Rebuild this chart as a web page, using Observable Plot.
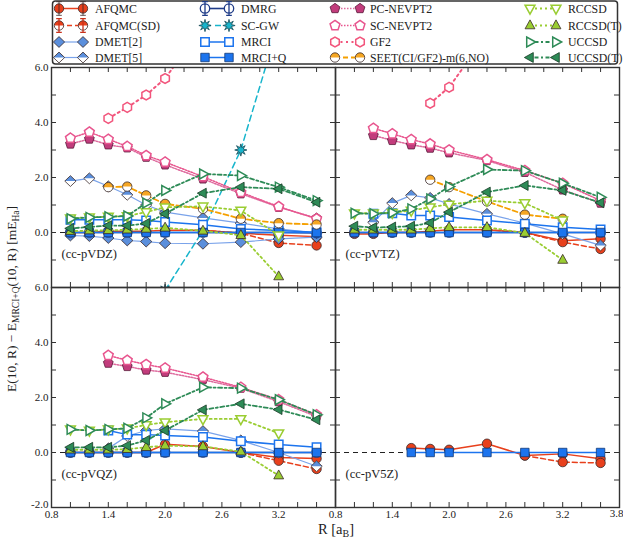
<!DOCTYPE html>
<html><head><meta charset="utf-8">
<script src="https://cdn.jsdelivr.net/npm/d3@7"></script>
<script src="https://cdn.jsdelivr.net/npm/@observablehq/plot@0.6"></script>
<style>
body{margin:0;background:#fff;}
#wrap{position:relative;width:623px;height:540px;font-family:"Liberation Serif",serif;}
#chart{position:absolute;left:0;top:0;}
#legend{position:absolute;left:0;top:0;}
</style></head><body><div id="wrap"><div id="chart"></div><div id="legend"></div></div>
<script>
// ---------- data ----------
const R = [1.0, 1.2, 1.4, 1.6, 1.8, 2.0, 2.4, 2.8, 3.2, 3.6];
const panelNames = ["(cc-pVDZ)", "(cc-pVTZ)", "(cc-pVQZ)", "(cc-pV5Z)"];
const xTickLabels = [0.8, 1.4, 2.0, 2.6, 3.2];
const yTickLabels = [0, 2, 4, 6];
const xMinor = [1.0,1.2,1.4,1.6,1.8,2.0,2.2,2.4,2.6,2.8,3.0,3.2,3.4,3.6];
const yMinor = [-1, 0, 1, 2, 3, 4, 5];
const _ = null;

const AFQMC    = {dz:[0.0,0.0,0.05,0.05,0.05,0.08,0.08,-0.03,-0.1,-0.15], tz:[-0.05,-0.05,0.0,0.0,0.05,0.1,0.1,0.0,-0.3,-0.23], qz:[0,0,0,0,0,0.3,0.22,0,-0.18,-0.22], v5z:[_,_,_,0.16,0.13,0.1,0.32,-0.11,-0.05,-0.23]};
const AFQMC_SD = {dz:[_,_,_,_,_,_,0.08,-0.03,-0.38,-0.47], tz:[_,_,_,_,_,_,0.1,0.0,-0.35,-0.6], qz:[_,_,_,_,_,_,_,0,-0.3,-0.6], v5z:[_,_,_,_,_,_,_,-0.11,-0.35,-0.38]};
const DMET2    = {dz:[-0.11,-0.13,-0.2,-0.29,-0.33,-0.39,-0.41,-0.35,-0.23,-0.17]};
const DMET5    = {dz:[1.87,1.97,1.68,1.37,1.0,0.74,0.53,0.34,0.13,-0.02], tz:[_,0.37,1.07,1.35,1.26,1.04,0.68,0.34,-0.05,-0.47], qz:[_,_,0.15,0.6,0.8,0.86,0.78,0.44,0.0,-0.5]};
const DMRG     = {dz:[0,0,0,0,0,0,0,0,0,-0.02], tz:[0,0,0,0,0,0,0,0,0,0], qz:[0,0,0,0,0,0,0,0,0,0]};
const SCGW     = {dz:[_,_,_,_,_,-2.1,0.07,3.0,7.6,_]};
const MRCI     = {dz:[0.46,0.46,0.46,0.46,0.44,0.38,0.28,0.13,0.07,0.01], tz:[_,0.68,0.7,0.62,0.62,0.56,0.44,0.32,0.19,0.11], qz:[_,_,0.8,0.65,0.65,0.62,0.56,0.41,0.29,0.19]};
const MRCIQ    = {dz:[0,0,0,0,0,0,0,0,0,0], tz:[0,0,0,0,0,0,0,0,0,0], qz:[0,0,0,0,0,0,0,0,0,0], v5z:[_,_,_,0,0,0,0,0,0,0]};
const PCNEVPT2 = {dz:[3.22,3.4,3.19,3.08,2.74,2.46,1.95,1.41,0.92,0.52], tz:[_,3.53,3.35,3.19,3.07,2.9,2.62,2.19,1.55,1.07], qz:[_,_,3.25,3.13,3.0,2.92,2.65,2.34,1.85,1.31]};
const SCNEVPT2 = {dz:[3.43,3.65,3.39,3.13,2.8,2.56,2.03,1.46,0.94,0.5], tz:[_,3.79,3.59,3.38,3.22,3.0,2.65,2.25,1.79,1.16], qz:[_,_,3.53,3.35,3.2,3.07,2.74,2.37,1.92,1.37]};
const GF2      = {dz:[_,_,4.15,4.55,5.0,5.6,7.5,_,_,_], tz:[_,_,_,_,4.7,5.28,7.2,_,_,_]};
const SEET     = {dz:[_,_,1.65,1.67,1.35,1.04,0.86,0.5,0.34,0.29], tz:[_,_,_,_,1.92,1.65,1.13,0.65,0.5,_]};
const RCCSD    = {dz:[0.52,0.55,0.58,0.6,0.74,0.92,0.95,0.8,-0.1,_], tz:[0.7,0.7,0.72,0.8,0.92,1.02,1.16,1.07,0.44,_], qz:[0.84,0.8,0.84,0.88,1.0,1.1,1.22,1.22,0.7,_]};
const RCCSDT   = {dz:[0.05,0.07,0.08,0.1,0.13,0.17,0.06,-0.1,-1.6,_], tz:[0.1,0.1,0.1,0.1,0.15,0.19,0.19,-0.02,-1.0,_], qz:[0.1,0.1,0.1,0.12,0.19,0.25,0.22,0.03,-0.84,_]};
const UCCSD    = {dz:[0.5,0.55,0.57,0.6,1.07,1.53,2.13,2.07,1.65,1.16], tz:[0.7,0.68,0.72,0.86,1.22,1.67,2.29,2.25,1.79,1.28], qz:[0.84,0.8,0.84,0.88,1.26,1.77,2.37,2.34,1.92,1.37]};
const UCCSDT   = {dz:[0.15,0.2,0.25,0.25,0.33,0.68,1.43,1.65,1.59,1.1], tz:[0.23,0.18,0.2,0.23,0.35,0.74,1.47,1.71,1.53,1.08], qz:[0.19,0.19,0.19,0.25,0.44,0.8,1.55,1.77,1.56,1.19]};

// ---------- symbols ----------
const rad = s => Math.sqrt(s / Math.PI);
function poly(pts){ return {draw(ctx, size){ const r = rad(size); ctx.moveTo(pts[0][0]*r, pts[0][1]*r); for (let i=1;i<pts.length;i++) ctx.lineTo(pts[i][0]*r, pts[i][1]*r); ctx.closePath(); }}; }
const reg = (n, k, rot) => d3.range(n).map(i => { const a = rot + i*2*Math.PI/n; return [k*Math.cos(a), k*Math.sin(a)]; });
const barPath = (ctx, r) => { const h=r*1.45, c=r*0.6; ctx.moveTo(0,-h); ctx.lineTo(0,h); ctx.moveTo(-c,-h); ctx.lineTo(c,-h); ctx.moveTo(-c,h); ctx.lineTo(c,h); };
const S = {
  circle: {draw(ctx, size){ const r = rad(size); ctx.moveTo(r,0); ctx.arc(0,0,r,0,2*Math.PI); }},
  circleTop: {draw(ctx, size){ const r = rad(size); ctx.moveTo(r,0); ctx.arc(0,0,r,0,Math.PI,true); ctx.closePath(); }},
  circleBar: {draw(ctx, size){ const r = rad(size); ctx.moveTo(r,0); ctx.arc(0,0,r,0,2*Math.PI); barPath(ctx, r); }},
  bar: {draw(ctx, size){ barPath(ctx, rad(size)); }},
  square: poly([[-0.9,-0.9],[0.9,-0.9],[0.9,0.9],[-0.9,0.9]]),
  diamond: poly([[0,-1.15],[1.2,0],[0,1.15],[-1.2,0]]),
  diamondTop: poly([[-1.2,0],[0,-1.15],[1.2,0]]),
  triUp: poly([[0,-1.2],[1.05,0.7],[-1.05,0.7]]),
  triDown: poly([[0,1.2],[1.05,-0.7],[-1.05,-0.7]]),
  triRight: poly([[1.2,0],[-0.7,-1.05],[-0.7,1.05]]),
  triLeft: poly([[-1.2,0],[0.7,-1.05],[0.7,1.05]]),
  pentagon: poly(reg(5, 1.1, -Math.PI/2)),
  hexagon: poly(reg(6, 1.05, -Math.PI/2)),
  star8: poly(d3.range(16).map(i => { const a = -Math.PI/2 + i*Math.PI/8; const k = i % 2 ? 0.55 : 1.3; return [k*Math.cos(a), k*Math.sin(a)]; }))
};

// ---------- styles ----------
const EDGE = "#3a2a2a";
const full = (sym, fill, stroke = EDGE, sw = 0.8) => [{sym, fill, stroke, sw}];
const open = (sym, color, sw = 1.5) => [{sym, fill: "white", stroke: color, sw}];
const half = (symFull, symHalf, color) => [{sym: symFull, fill: "white", stroke: "none", sw: 0}, {sym: symHalf, fill: color, stroke: "none", sw: 0}, {sym: symFull, fill: "none", stroke: EDGE, sw: 0.8}];

const series = [
  {name: "AFQMC", data: AFQMC, color: "#e8401c", lw: 1.5, dash: null, mk: full(S.circle, "#e8401c"), lmk: full(S.circleBar, "#e8401c")},
  {name: "AFQMC(SD)", data: AFQMC_SD, color: "#e8401c", lw: 1.5, dash: "5,3", mk: full(S.circle, "#e8401c"),
   lmk: [...half(S.circle, S.circleTop, "#e8401c"), {sym: S.bar, fill: "none", stroke: "#c8301a", sw: 1.3}]},
  {name: "DMET[2]", data: DMET2, color: "#7aa3ea", lw: 1.2, dash: null, mk: full(S.diamond, "#5b8fdc")},
  {name: "DMET[5]", data: DMET5, color: "#7aa3ea", lw: 1.2, dash: null, mk: half(S.diamond, S.diamondTop, "#5b8fdc")},
  {name: "DMRG", data: DMRG, color: "#1f3c88", lw: 1.6, dash: null, mk: open(S.circle, "#1f3c88", 1.3), lmk: open(S.circleBar, "#1f3c88", 1.3)},
  {name: "SC-GW", data: SCGW, color: "#17b5cc", lw: 1.5, dash: "6,4", mk: full(S.star8, "#17b5cc", "#1a4a55")},
  {name: "MRCI", data: MRCI, color: "#1c74ee", lw: 1.5, dash: null, mk: open(S.square, "#1c74ee")},
  {name: "MRCI+Q", data: MRCIQ, color: "#1c74ee", lw: 1.5, dash: null, mk: full(S.square, "#1c74ee", "#123a77")},
  {name: "PC-NEVPT2", data: PCNEVPT2, color: "#de6b9e", lw: 1.5, dash: "1.5,1.5", mk: full(S.pentagon, "#c23c7c", "#5a1a3a")},
  {name: "SC-NEVPT2", data: SCNEVPT2, color: "#e8558e", lw: 1.5, dash: "1.5,1.5", mk: open(S.pentagon, "#e8558e")},
  {name: "GF2", data: GF2, color: "#f2557c", lw: 2, dash: "2,3.5", mk: open(S.hexagon, "#f2557c")},
  {name: "SEET(CI/GF2)-m(6,NO)", data: SEET, color: "#f5a000", lw: 1.8, dash: "5,3", mk: half(S.circle, S.circleTop, "#f5a623")},
  {name: "RCCSD", data: RCCSD, color: "#9acd32", lw: 1.8, dash: "2,3", mk: open(S.triDown, "#9acd32")},
  {name: "RCCSD(T)", data: RCCSDT, color: "#9acd32", lw: 1.8, dash: "2,3", mk: full(S.triUp, "#9acd32")},
  {name: "UCCSD", data: UCCSD, color: "#2e8b57", lw: 1.8, dash: "2,2.5,4,2.5", mk: open(S.triRight, "#2e8b57")},
  {name: "UCCSD(T)", data: UCCSDT, color: "#2e8b57", lw: 1.8, dash: "2,2.5,4,2.5", mk: full(S.triLeft, "#2e8b57", "#163a25")}
];

const PANELS = [{key: "dz", fx: "L", fy: "T"}, {key: "tz", fx: "R", fy: "T"}, {key: "qz", fx: "L", fy: "B"}, {key: "v5z", fx: "R", fy: "B"}];
function rowsOf(obj){
  const out = [];
  for (const p of PANELS){ const arr = obj[p.key]; if (!arr) continue;
    arr.forEach((v, i) => { if (v != null) out.push({R: R[i], v, fx: p.fx, fy: p.fy, panel: p.key}); }); }
  return out;
}

const MR = 4.7;
const dataMarks = [];
for (const s of series){
  const rows = rowsOf(s.data);
  dataMarks.push(Plot.line(rows, {x: "R", y: "v", fx: "fx", fy: "fy", z: "panel", stroke: s.color, strokeWidth: s.lw, strokeDasharray: s.dash, clip: true}));
  for (const L of s.mk) dataMarks.push(Plot.dot(rows, {x: "R", y: "v", fx: "fx", fy: "fy", symbol: L.sym, r: MR, fill: L.fill, stroke: L.stroke, strokeWidth: L.sw, clip: true}));
}

const panelLabelRows = PANELS.map((p, i) => ({fx: p.fx, fy: p.fy, t: panelNames[i]}));

const chart = Plot.plot({
  width: 623, height: 540,
  marginLeft: 51, marginRight: 4, marginTop: 67, marginBottom: 33,
  x: {domain: [0.8, 3.8], axis: null},
  y: {domain: [-2, 6], axis: null},
  fx: {domain: ["L", "R"], padding: 0, axis: null},
  fy: {domain: ["T", "B"], padding: 0, axis: null},
  style: {fontFamily: "Liberation Serif, serif", fontSize: "11px", color: "#222", background: "white"},
  marks: [
    Plot.ruleY([0], {stroke: "#222", strokeWidth: 1, strokeDasharray: "5,4"}),
    ...dataMarks,
    Plot.tickY(yMinor, {y: d => d, insetRight: 279, stroke: "#333"}),
    Plot.tickY(yMinor, {y: d => d, insetLeft: 279, stroke: "#333"}),
    Plot.tickX(xMinor, {x: d => d, insetTop: 215, stroke: "#333"}),
    Plot.tickX(xMinor, {x: d => d, insetBottom: 215, stroke: "#333"}),
    Plot.frame({stroke: "#333", strokeWidth: 1.4}),
    Plot.axisY({anchor: "left", ticks: yTickLabels, tickSize: 0, tickPadding: 3, tickFormat: d => d.toFixed(1), label: null, fontSize: 11}),
    Plot.text([{fx: "L", fy: "B", v: -2}], {fx: "fx", fy: "fy", y: "v", frameAnchor: "left", dx: -3, dy: -3, textAnchor: "end", text: d => d.v.toFixed(1), fontSize: 11}),
    Plot.axisX({anchor: "bottom", ticks: xTickLabels, tickSize: 0, tickPadding: 3, tickFormat: d => d.toFixed(1), label: null, fontSize: 11}),
    Plot.text([{fx: "R", fy: "B", x: 3.8}], {fx: "fx", fy: "fy", x: "x", frameAnchor: "bottom", dy: 9, dx: -3, text: d => d.x.toFixed(1), fontSize: 11}),
    Plot.text(panelLabelRows, {fx: "fx", fy: "fy", text: "t", frameAnchor: "bottom-left", dx: 10, dy: -30, textAnchor: "start", fontSize: 12.5})
  ]
});
document.getElementById("chart").appendChild(chart);

// axis titles
const svg = d3.select(chart);
const yt = svg.append("text").attr("transform", "translate(16,299) rotate(-90)").attr("text-anchor", "middle")
  .attr("font-family", "Liberation Serif, serif").attr("font-size", 13.5).attr("fill", "#222");
yt.append("tspan").text("E(10, R) \u2212 E");
yt.append("tspan").attr("font-size", 9.5).attr("dy", 3).text("MRCI+Q");
yt.append("tspan").attr("dy", -3).text("(10, R) [mE");
yt.append("tspan").attr("font-size", 9.5).attr("dy", 3).text("Ha");
yt.append("tspan").attr("dy", -3).text("]");
const xt = svg.append("text").attr("x", 336).attr("y", 534).attr("text-anchor", "middle")
  .attr("font-family", "Liberation Serif, serif").attr("font-size", 14.5).attr("fill", "#222");
xt.append("tspan").text("R [a");
xt.append("tspan").attr("font-size", 10).attr("dy", 3).text("B");
xt.append("tspan").attr("dy", -3).text("]");

// ---------- legend ----------
const cols = [[59, 83, 95], [205, 229, 241], [335, 360, 370], [530, 556, 568]];
const rowsY = [8.5, 25.5, 42, 57.5];
const lg = d3.select("#legend").append("svg").attr("width", 623).attr("height", 66);
lg.append("rect").attr("x", 52.5).attr("y", 1).attr("width", 565).attr("height", 63).attr("rx", 3)
  .attr("fill", "white").attr("stroke", "#333").attr("stroke-width", 1.5);
series.forEach((s, i) => {
  const c = cols[Math.floor(i / 4)], y = rowsY[i % 4];
  lg.append("line").attr("x1", c[0]).attr("x2", c[1]).attr("y1", y).attr("y2", y)
    .attr("stroke", s.color).attr("stroke-width", s.lw).attr("stroke-dasharray", s.dash);
  for (const x of [c[0], c[1]]) for (const L of (s.lmk || s.mk)){
    lg.append("path").attr("transform", `translate(${x},${y})`).attr("d", d3.symbol(L.sym, MR*MR*Math.PI)())
      .attr("fill", L.fill).attr("stroke", L.stroke).attr("stroke-width", L.sw);
  }
  lg.append("text").attr("x", c[2]).attr("y", y).attr("dy", "0.35em").attr("font-family", "Liberation Serif, serif")
    .attr("font-size", 11.8).attr("fill", "#222").text(s.name);
});
</script></body></html>
